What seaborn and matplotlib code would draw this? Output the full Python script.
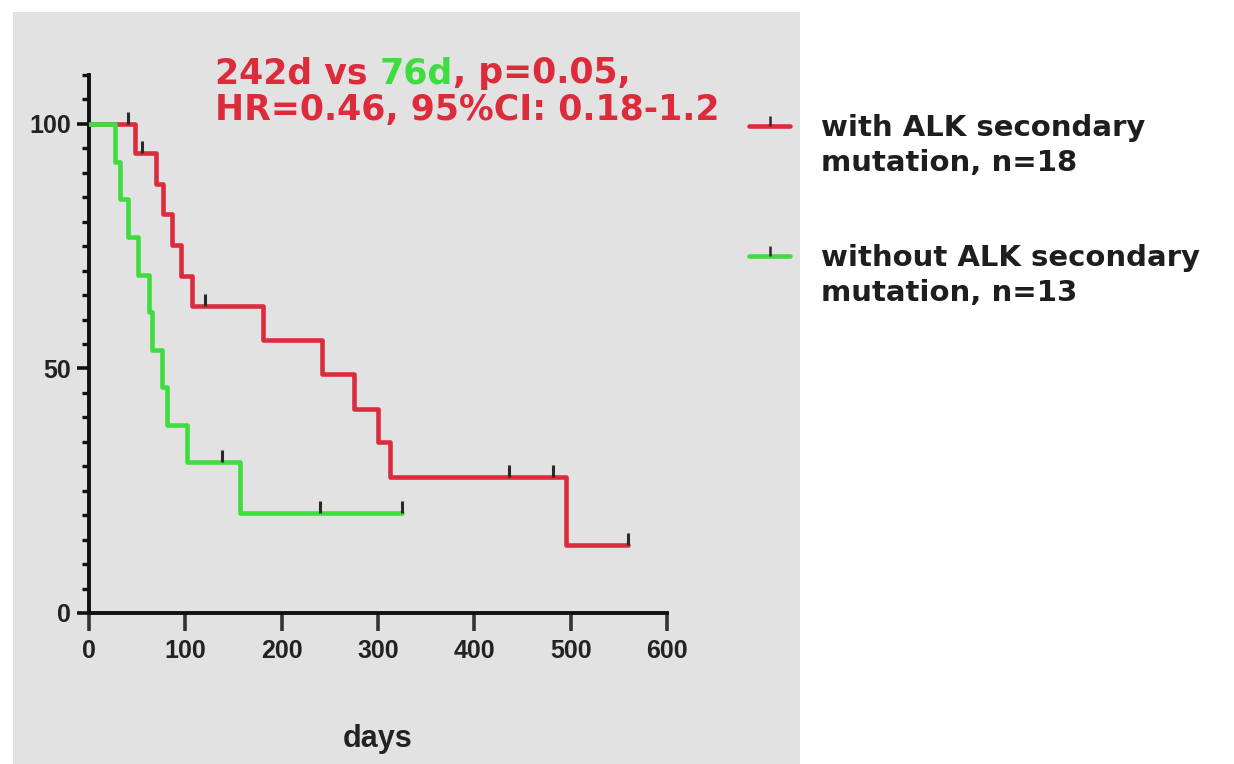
import numpy as np
import pandas as pd
import matplotlib
matplotlib.use("Agg")
import matplotlib.pyplot as plt
from matplotlib.patches import Rectangle
from matplotlib.lines import Line2D
import seaborn as sns

# Kaplan-Meier step data (days, percent surviving) per group
red_days = [0, 48, 70, 77, 86, 96, 107, 181, 242, 275, 300, 312, 495, 560]
red_surv = [100, 94.1, 87.8, 81.6, 75.3, 69.0, 62.7, 55.8, 48.8, 41.8, 34.9, 27.9, 13.9, 13.9]
red_cens_days = [41, 55, 120, 436, 482, 560]
red_cens_surv = [100, 94.1, 62.7, 27.9, 27.9, 13.9]

green_days = [0, 27, 32, 40, 51, 62, 65, 76, 81, 102, 157, 325]
green_surv = [100, 92.3, 84.6, 76.9, 69.2, 61.5, 53.8, 46.2, 38.5, 30.8, 20.5, 20.5]
green_cens_days = [138, 240, 325]
green_cens_surv = [30.8, 20.5, 20.5]

group_labels = ["with ALK secondary\nmutation, n=18",
                "without ALK secondary\nmutation, n=13"]
x_ticks = [0, 100, 200, 300, 400, 500, 600]
y_ticks = [0, 50, 100]
x_label = "days"

RED = "#dc2b3b"
GREEN = "#3fdc3f"
PANEL = "#e2e2e2"

sns.set_theme(style="ticks")
plt.rcParams["font.family"] = ["Liberation Sans", "DejaVu Sans"]

fig = plt.figure(figsize=(12.34, 7.64), dpi=100, facecolor="white")
fig.patches.append(Rectangle((13 / 1234, 0), (800 - 13) / 1234, 1 - 12 / 764,
                             transform=fig.transFigure, facecolor=PANEL,
                             edgecolor="none", zorder=-5))

ax = fig.add_axes([89 / 1234, 1 - 613 / 764, (667 - 89) / 1234, (613 - 75) / 764])
ax.set_facecolor("none")
ax.set_zorder(2)

curves = pd.concat([
    pd.DataFrame({"days": red_days, "surv": red_surv, "group": group_labels[0]}),
    pd.DataFrame({"days": green_days, "surv": green_surv, "group": group_labels[1]}),
])
sns.lineplot(data=curves, x="days", y="surv", hue="group",
             palette=[RED, GREEN], drawstyle="steps-post", linewidth=3.3,
             estimator=None, sort=False, legend=False, ax=ax, zorder=3)

cens = pd.concat([
    pd.DataFrame({"days": red_cens_days, "surv": red_cens_surv, "group": group_labels[0]}),
    pd.DataFrame({"days": green_cens_days, "surv": green_cens_surv, "group": group_labels[1]}),
])
sns.scatterplot(data=cens, x="days", y="surv", marker=2, s=70, color="#2a2a2a",
                linewidth=2.2, legend=False, ax=ax, zorder=4)

ax.set_xlim(0, 600)
ax.set_ylim(0, 110)
ax.set_xticks(x_ticks)
ax.set_yticks(y_ticks)
ax.set_yticks(np.arange(0, 111, 5), minor=True)
ax.set_xlabel(x_label, fontsize=22, fontweight="bold", labelpad=44, color="#222222")
ax.set_ylabel("")
for lab in ax.get_xticklabels() + ax.get_yticklabels():
    lab.set_fontweight("bold")
    lab.set_fontsize(18)
    lab.set_color("#222222")

for side in ("top", "right"):
    ax.spines[side].set_visible(False)
for side in ("left", "bottom"):
    ax.spines[side].set_linewidth(2.8)
    ax.spines[side].set_color("#111111")
ax.tick_params(axis="x", which="major", length=13, width=2.6, color="#333333", pad=6)
ax.tick_params(axis="y", which="major", length=9, width=2.6, color="#111111", pad=4)
ax.tick_params(axis="y", which="minor", length=5, width=2.4, color="#111111")
ax.tick_params(axis="x", which="minor", length=0)

# Median survival / hazard ratio annotation, with the green median coloured
txt_kw = dict(fontsize=25, fontweight="bold", family=["DejaVu Sans"],
              transform=fig.transFigure, va="baseline")
t1 = fig.text(215 / 1234, 1 - 83 / 764, "242d vs ", color=RED, **txt_kw)
fig.canvas.draw()
r = fig.canvas.get_renderer()
bb = t1.get_window_extent(r)
t2 = fig.text(bb.x1 / fig.bbox.width, 1 - 83 / 764, "76d", color=GREEN, **txt_kw)
bb2 = t2.get_window_extent(r)
fig.text(bb2.x1 / fig.bbox.width, 1 - 83 / 764, ", p=0.05,", color=RED, **txt_kw)
fig.text(215 / 1234, 1 - 120 / 764, "HR=0.46, 95%CI: 0.18-1.2", color=RED, **txt_kw)

handles = [Line2D([], [], color=RED, lw=3.3, marker=2, markersize=7,
                  markeredgecolor="#2a2a2a", markeredgewidth=1.8),
           Line2D([], [], color=GREEN, lw=3.3, marker=2, markersize=7,
                  markeredgecolor="#2a2a2a", markeredgewidth=1.8)]
leg = fig.legend(handles, group_labels, loc="upper left", numpoints=1,
                 bbox_to_anchor=(723 / 1234, 1 - 88 / 764), frameon=False,
                 handlelength=1.4, handleheight=1.1, handletextpad=1.05,
                 labelspacing=2.3,
                 prop=dict(family=["DejaVu Sans"], weight="bold", size=21))
for col in leg._legend_handle_box.get_children():
    for item in col.get_children():
        item.align = "top"
for t in leg.get_texts():
    t.set_color("#1e1e1e")
    t.set_linespacing(1.3)

fig.savefig("out.png", dpi=100, facecolor="white")
